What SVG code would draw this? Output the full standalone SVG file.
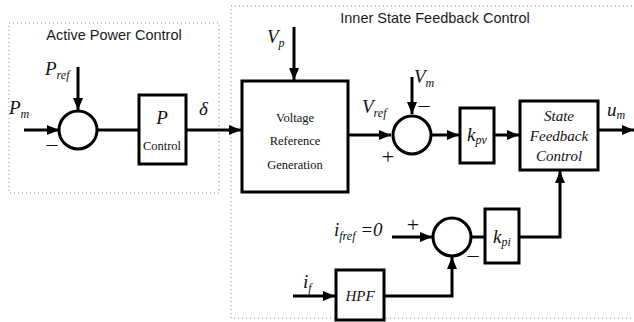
<svg xmlns="http://www.w3.org/2000/svg" width="634" height="322" viewBox="0 0 634 322">
<defs>
<marker id="ah" viewBox="0 0 12 10" refX="12" refY="5" markerWidth="12" markerHeight="10" markerUnits="userSpaceOnUse" orient="auto">
<path d="M0,0 L12,5 L0,10 Z" fill="#000"/>
</marker>
<style>
.dot{fill:none;stroke:#888;stroke-width:1;stroke-dasharray:1 3}
.blk{fill:#fff;stroke:#000;stroke-width:3}
.sum{fill:#fff;stroke:#000;stroke-width:3}
.w{fill:none;stroke:#000;stroke-width:3}
.a{fill:none;stroke:#000;stroke-width:3;marker-end:url(#ah)}
.lbl{font-family:"Liberation Sans",Arial,sans-serif;font-size:14.5px;fill:#1a1a1a}
.m{font-family:"Liberation Serif","Times New Roman",serif;font-style:italic;font-size:19px;fill:#111}
.s{font-size:12px}
.r{font-family:"Liberation Serif","Times New Roman",serif;font-size:12.5px;fill:#111}
.bi{font-family:"Liberation Serif","Times New Roman",serif;font-style:italic;font-size:15px;fill:#111}
.sg{font-family:"Liberation Serif","Times New Roman",serif;font-size:22px;fill:#111}
</style>
</defs>
<g id="regions">
<rect class="dot" x="9" y="23" width="210" height="170"/>
<path class="dot" d="M640,6 H231 V318 H640"/>
<text class="lbl" x="114" y="40" text-anchor="middle">Active Power Control</text>
<text class="lbl" x="435" y="23" text-anchor="middle">Inner State Feedback Control</text>
</g>
<g id="connectors">
<path class="a" d="M78,67 V110"/>
<path class="a" d="M24,130 H59"/>
<path class="w" d="M97,130 H139"/>
<path class="a" d="M186,130 H241"/>
<path class="a" d="M294,27 V80"/>
<path class="a" d="M348,135 H391"/>
<path class="a" d="M412,77 V114"/>
<path class="a" d="M431,135 H459"/>
<path class="a" d="M494,135 H519"/>
<path class="a" d="M598,130 H634"/>
<path class="a" d="M392,237 H432"/>
<path class="w" d="M471,237 H485"/>
<path class="a" d="M519,237 H560 V171"/>
<path class="a" d="M293,296 H335"/>
<path class="a" d="M384,296 H452 V257"/>
</g>
<g id="sum1">
<circle class="sum" cx="78" cy="130" r="19"/>
<text class="sg" x="52" y="151" text-anchor="middle">–</text>
</g>
<g id="pcontrol">
<rect class="blk" x="139" y="95" width="47" height="69"/>
<text class="m" x="162" y="124" text-anchor="middle">P</text>
<text class="r" x="162" y="150" text-anchor="middle">Control</text>
</g>
<g id="vrg">
<rect class="blk" x="242" y="81" width="106" height="111"/>
<text class="r" x="295" y="122" text-anchor="middle">Voltage</text>
<text class="r" x="295" y="145" text-anchor="middle">Reference</text>
<text class="r" x="295" y="169" text-anchor="middle">Generation</text>
</g>
<g id="sum2">
<circle class="sum" cx="412" cy="135" r="19"/>
<text class="sg" x="424" y="112" text-anchor="middle">–</text>
<text class="sg" x="388" y="164" text-anchor="middle">+</text>
</g>
<g id="kpv">
<rect class="blk" x="460" y="108" width="34" height="55"/>
<text class="m" x="477" y="141" text-anchor="middle">k<tspan class="s" dy="3">pv</tspan></text>
</g>
<g id="sfc">
<rect class="blk" x="520" y="101" width="78" height="69"/>
<text class="bi" x="559" y="121" text-anchor="middle">State</text>
<text class="bi" x="559" y="141" text-anchor="middle">Feedback</text>
<text class="bi" x="559" y="161" text-anchor="middle">Control</text>
</g>
<g id="sum3">
<circle class="sum" cx="452" cy="237" r="19"/>
<text class="sg" x="413" y="232" text-anchor="middle">+</text>
<text class="sg" x="473" y="262" text-anchor="middle">–</text>
</g>
<g id="kpi">
<rect class="blk" x="485" y="209" width="34" height="54"/>
<text class="m" x="502" y="243" text-anchor="middle">k<tspan class="s" dy="3">pi</tspan></text>
</g>
<g id="hpf">
<rect class="blk" x="336" y="270" width="48" height="50"/>
<text class="bi" x="360" y="301" text-anchor="middle">HPF</text>
</g>
<g id="labels">
<text class="m" x="9" y="114">P<tspan class="s" dy="4">m</tspan></text>
<text class="m" x="45" y="75">P<tspan class="s" dy="4">ref</tspan></text>
<text class="m" x="199" y="115">δ</text>
<text class="m" x="267" y="43">V<tspan class="s" dy="4">p</tspan></text>
<text class="m" x="362" y="113">V<tspan class="s" dy="4">ref</tspan></text>
<text class="m" x="414" y="83">V<tspan class="s" dy="4">m</tspan></text>
<text class="m" x="607" y="116">u<tspan class="s" dy="3">m</tspan></text>
<text class="m" x="334" y="236">i<tspan class="s" dy="4">fref</tspan><tspan dy="-4"> =0</tspan></text>
<text class="m" x="303" y="288">i<tspan class="s" dy="4">f</tspan></text>
</g>
</svg>
